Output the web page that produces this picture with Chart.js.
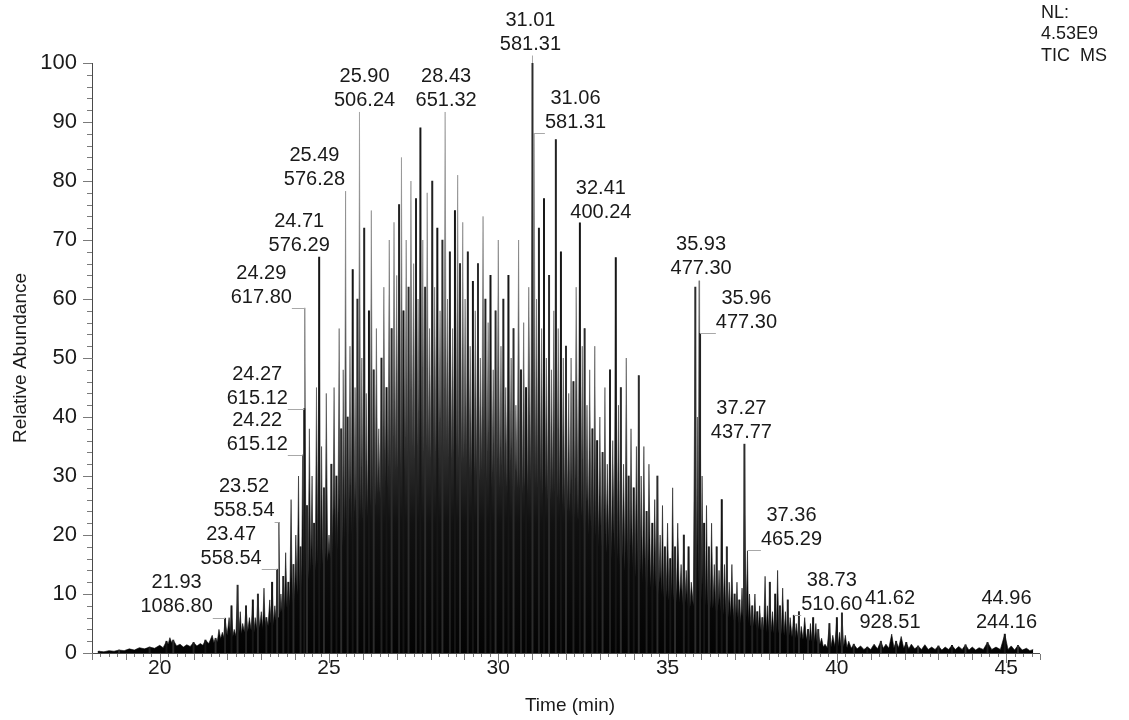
<!DOCTYPE html>
<html lang="en">
<head>
  <meta charset="UTF-8">
  <title>TIC MS - Relative Abundance</title>
  <style>
    html, body { margin: 0; padding: 0; background: #fff; }
    #wrap { width: 1129px; height: 720px; position: relative; }
  </style>
</head>
<body>
  <div id="wrap"><canvas id="tic"></canvas></div>

  <script src="https://cdn.jsdelivr.net/npm/chart.js"></script>
  <script>
    // peak apexes (retention time in min, relative abundance in %)
    const peakTime = [
      18.2, 18.5, 18.8, 19.1, 19.4, 19.7, 20.0, 20.2, 20.3, 20.4,
      20.6, 20.8, 21.0, 21.2, 21.35, 21.55, 21.65, 21.75, 21.85, 21.93,
      22.05, 22.12, 22.2, 22.3, 22.38, 22.45, 22.55, 22.65, 22.75, 22.82,
      22.9, 23.0, 23.08, 23.15, 23.25, 23.32, 23.4, 23.47, 23.52, 23.58,
      23.65, 23.72, 23.8, 23.88, 23.95, 24.02, 24.1, 24.16, 24.22, 24.27,
      24.29, 24.35, 24.42, 24.5, 24.56, 24.63, 24.71, 24.78, 24.85, 24.92,
      25.0, 25.07, 25.15, 25.22, 25.3, 25.36, 25.42, 25.49, 25.55, 25.62,
      25.7, 25.77, 25.84, 25.9, 25.97, 26.04, 26.1, 26.18, 26.25, 26.32,
      26.4, 26.47, 26.55, 26.62, 26.7, 26.78, 26.85, 26.92, 27.0, 27.07,
      27.14, 27.2, 27.28, 27.35, 27.42, 27.5, 27.57, 27.63, 27.7, 27.77,
      27.84, 27.9, 27.97, 28.05, 28.12, 28.2, 28.28, 28.35, 28.43, 28.5,
      28.57, 28.65, 28.72, 28.8, 28.87, 28.95, 29.02, 29.1, 29.17, 29.25,
      29.32, 29.4, 29.47, 29.55, 29.62, 29.7, 29.77, 29.85, 29.92, 30.0,
      30.08, 30.15, 30.22, 30.3, 30.38, 30.45, 30.52, 30.6, 30.67, 30.75,
      30.82, 30.9, 31.01, 31.06, 31.13, 31.2, 31.28, 31.35, 31.42, 31.5,
      31.57, 31.64, 31.7, 31.77, 31.85, 31.92, 32.0, 32.08, 32.15, 32.22,
      32.3, 32.41, 32.48, 32.55, 32.62, 32.7, 32.78, 32.85, 32.92, 33.0,
      33.08, 33.15, 33.22, 33.3, 33.38, 33.47, 33.55, 33.62, 33.7, 33.78,
      33.85, 33.92, 34.0, 34.08, 34.15, 34.22, 34.3, 34.38, 34.45, 34.55,
      34.62, 34.7, 34.78, 34.85, 34.92, 35.0, 35.08, 35.15, 35.22, 35.3,
      35.4, 35.48, 35.55, 35.62, 35.7, 35.82, 35.88, 35.93, 35.96, 36.02,
      36.08, 36.15, 36.22, 36.3, 36.38, 36.45, 36.52, 36.6, 36.68, 36.75,
      36.82, 36.9, 36.98, 37.05, 37.12, 37.2, 37.27, 37.36, 37.42, 37.5,
      37.58, 37.65, 37.72, 37.8, 37.88, 37.95, 38.02, 38.1, 38.18, 38.25,
      38.32, 38.4, 38.48, 38.55, 38.62, 38.73, 38.8, 38.88, 38.95, 39.05,
      39.15, 39.22, 39.3, 39.38, 39.45, 39.55, 39.65, 39.78, 39.88, 40.0,
      40.08, 40.15, 40.25, 40.35, 40.5, 40.7, 40.9, 41.1, 41.3, 41.45,
      41.62, 41.75, 41.9, 42.05, 42.2, 42.4, 42.6, 42.8, 43.0, 43.2,
      43.4, 43.6, 43.8, 44.0, 44.2, 44.45, 44.7, 44.96, 45.15, 45.35,
      45.6, 45.8
    ];
    const peakAbund = [
      0.3, 0.4, 0.5, 0.7, 0.9, 1.0, 1.3, 2.0, 2.6, 2.2,
      1.5, 1.4, 1.8, 1.6, 2.2, 3, 2.5, 4, 3.5, 5.9,
      6, 8, 4, 11.5, 7, 5, 8, 6, 9, 6,
      10, 7, 11, 6, 9, 12, 8, 14.2, 22.2, 10,
      13, 17, 12, 26, 15, 20, 30, 18, 33.6, 41.4,
      58.5, 25, 38, 30, 22, 45, 67.1, 35, 28, 44,
      20, 32, 45, 30, 55, 38, 48, 78.3, 40, 52,
      65, 45, 60, 91.7, 50, 72, 44, 58, 75, 48,
      55, 38, 50, 62, 45, 70, 55, 73, 64, 76,
      84, 58, 70, 62, 80, 66, 77, 60, 89, 70,
      62, 78, 55, 80, 62, 72, 58, 70, 91.7, 60,
      68, 55, 75, 81, 66, 73, 60, 68, 52, 63,
      58, 66, 50, 74, 60, 56, 64, 48, 58, 70,
      52, 60, 45, 64, 50, 55, 42, 70, 48, 56,
      45, 62, 100, 88.1, 60, 72, 55, 77, 50, 64,
      48, 58, 87, 55, 68, 50, 52, 44, 50, 46,
      62, 72.9, 52, 55, 42, 48, 38, 52, 36, 40,
      34, 45, 32, 48, 36, 67, 42, 45, 32, 50,
      30, 38, 28, 35, 47, 30, 35, 24, 32, 22,
      26, 30, 20, 25, 18, 22, 16, 28, 18, 22,
      15, 20, 14, 18, 12, 62, 40, 63.1, 54.2, 30,
      22, 25, 18, 22, 15, 18, 14, 26, 15, 18,
      12, 15, 10, 12, 9, 11, 35.4, 17.3, 10, 8,
      10, 7, 8, 6, 13, 8, 12, 7, 10, 14,
      8, 11, 7, 9, 6, 6.4, 5, 7, 4.5, 6,
      4, 5, 6, 5, 4, 2.5, 1.5, 5, 3, 6,
      3.5, 6.8, 3, 2, 1.5, 1.2, 1, 1.5, 2, 1.5,
      3.2, 2, 2.8, 1.8, 1.5, 1.2, 1.4, 1, 1.2, 1,
      1.3, 1.1, 1.4, 1, 0.9, 1.8, 1, 3.2, 1.2, 1.3,
      0.8, 0.6
    ];
    // trace minimum between each apex and the next one
    const valleyAbund = [
      0.2, 0.3, 0.4, 0.5, 0.7, 0.8, 0.9, 1.5, 1.8, 1.2,
      1.0, 1.1, 1.2, 1.3, 1.6, 1.8, 1.9, 2.4, 2.6, 3.0,
      3.2, 2.8, 2.9, 3.4, 3.2, 3.5, 3.6, 3.8, 3.5, 4.0,
      4.2, 4.1, 4.4, 4.6, 5.0, 4.8, 5.5, 6.0, 6.5, 6.8,
      7.2, 7.5, 8, 8.5, 9, 10, 10.5, 11, 12, 13,
      13, 12.5, 14, 13, 14, 15, 14, 15, 16, 15.5,
      16, 17, 18, 17.5, 19, 18, 19, 20, 20, 20,
      21, 20, 22, 23, 22, 24, 23, 25, 26, 25,
      27, 26, 28, 29, 28, 30, 29, 31, 31, 32,
      33, 31, 33, 34, 35, 33, 35, 36, 36, 34,
      35, 34, 33, 36, 34, 33, 35, 34, 36, 33,
      33, 34, 35, 33, 32, 33, 32, 31, 30, 31,
      30, 29, 31, 30, 29, 30, 28, 29, 30, 28,
      28, 29, 27, 29, 28, 27, 28, 28, 27, 28,
      27, 29, 31, 29, 28, 29, 27, 28, 26, 26,
      27, 27, 26, 25, 25, 24, 24, 24, 23, 23,
      22, 23, 21, 22, 20, 21, 19, 20, 18, 18,
      18, 17, 18, 16, 17, 16, 15, 16, 14, 15,
      14, 14.5, 13, 14, 13, 12, 12, 11, 11, 10.5,
      10.5, 10, 10, 9.5, 9.5, 9, 9.5, 9, 8.5, 8.5,
      8, 8.5, 8, 7.5, 8, 9, 10, 10, 9, 8.5,
      8, 8, 7.5, 7.5, 7, 7, 7, 6.5, 6.5, 6,
      6, 5.5, 5.5, 5, 5, 5, 5.5, 5, 4.5, 4.5,
      4.2, 4, 3.8, 3.8, 3.6, 3.6, 3.5, 3.4, 3.3, 3.3,
      3.1, 3, 2.9, 2.8, 2.7, 2.6, 2.6, 2.4, 2.3, 2.2,
      2, 2, 1.9, 1.8, 1.5, 1.0, 0.9, 1.0, 1.1, 1.2,
      1.1, 1.0, 0.9, 0.8, 0.7, 0.6, 0.6, 0.7, 0.8, 0.8,
      0.9, 0.9, 0.8, 0.7, 0.7, 0.6, 0.6, 0.6, 0.5, 0.6,
      0.6, 0.6, 0.5, 0.5, 0.6, 0.6, 0.6, 0.6, 0.5, 0.5,
      0.4
    ];

    // peak annotations: retention time, base peak m/z, where the text sits
    const labelRt = ['21.93', '23.47', '23.52', '24.22', '24.27', '24.29', '24.71', '25.49', '25.90', '28.43',
                     '31.01', '31.06', '32.41', '35.93', '35.96', '37.27', '37.36', '38.73', '41.62', '44.96'];
    const labelMz = ['1086.80', '558.54', '558.54', '615.12', '615.12', '617.80', '576.29', '576.28', '506.24', '651.32',
                     '581.31', '581.31', '400.24', '477.30', '477.30', '437.77', '465.29', '510.60', '928.51', '244.16'];
    const labelTextTime = [20.50, 22.11, 22.49, 22.88, 22.88, 23.00, 24.12, 24.57, 26.05, 28.46,
                           30.95, 32.28, 33.03, 35.99, 37.33, 37.18, 38.66, 39.85, 41.57, 45.01];
    const labelTextAbund = [7.8, 16.1, 24.1, 35.4, 43.2, 60.3, 69.0, 80.2, 93.6, 93.6,
                            103.2, 90.0, 74.7, 65.1, 56.1, 37.3, 19.3, 8.3, 5.1, 5.1];

    const xTickLabels = [20, 25, 30, 35, 40, 45];
    const yTickLabels = [0, 10, 20, 30, 40, 50, 60, 70, 80, 90, 100];
    const nlLines = ['NL:', '4.53E9', 'TIC  MS'];

    const FONT = '"Liberation Sans", Arial, sans-serif';
    // some apexes print as a dark core line, the rest only as the grey envelope
    const coreColors = ['#161616', 'rgba(0,0,0,0)', '#2c2c2c', 'rgba(0,0,0,0)', 'rgba(0,0,0,0)', '#222222', 'rgba(0,0,0,0)'];

    // apex, valley, apex, valley ... the valley sits halfway between two apexes
    const trace = [];
    peakTime.forEach((t, i) => {
      trace.push({ x: t, y: peakAbund[i] });
      if (i < valleyAbund.length) trace.push({ x: (t + peakTime[i + 1]) / 2, y: valleyAbund[i] });
    });

    // black at the bottom, grey towards the tips
    function traceShade(c) {
      const { ctx, chartArea, scales } = c.chart;
      if (!chartArea) return '#222';
      const g = ctx.createLinearGradient(0, scales.y.getPixelForValue(0), 0, scales.y.getPixelForValue(100));
      g.addColorStop(0, '#030303');
      g.addColorStop(0.22, '#111111');
      g.addColorStop(0.42, '#404040');
      g.addColorStop(0.7, '#767676');
      g.addColorStop(1, '#9c9c9c');
      return g;
    }

    const decor = {
      id: 'decor',
      afterDraw(chart) {
        const { ctx, chartArea: a, scales: { x, y } } = chart;
        ctx.save();

        // axes
        ctx.strokeStyle = '#4a4a4a';
        ctx.lineWidth = 1;
        ctx.beginPath();
        ctx.moveTo(a.left + 0.5, Math.round(y.getPixelForValue(100)));
        ctx.lineTo(a.left + 0.5, a.bottom + 0.5);
        ctx.lineTo(a.right, a.bottom + 0.5);
        ctx.stroke();

        // y ticks every 2, long every 10
        ctx.strokeStyle = '#7a7a7a';
        ctx.beginPath();
        for (let v = 0; v <= 100; v += 2) {
          const py = Math.round(y.getPixelForValue(v)) + 0.5;
          const len = v % 10 === 0 ? 9 : 5;
          ctx.moveTo(a.left - len, py);
          ctx.lineTo(a.left, py);
        }
        // x ticks every 0.25, longer on whole minutes and on multiples of 5
        for (let q = 18 * 4; q <= 46 * 4; q++) {
          const t = q / 4;
          const px = Math.round(x.getPixelForValue(t)) + 0.5;
          const len = t % 5 === 0 ? 9 : (t % 1 === 0 ? 6 : 3);
          ctx.moveTo(px, a.bottom + 1);
          ctx.lineTo(px, a.bottom + 1 + len);
        }
        ctx.stroke();

        // axis titles
        ctx.fillStyle = '#1a1a1a';
        ctx.font = '19px ' + FONT;
        ctx.textAlign = 'center';
        ctx.textBaseline = 'middle';
        ctx.fillText('Time (min)', (a.left + a.right) / 2 + 4, 706);
        ctx.save();
        ctx.translate(21, (a.top + a.bottom) / 2);
        ctx.rotate(-Math.PI / 2);
        ctx.fillText('Relative Abundance', 0, 0);
        ctx.restore();

        // normalisation level
        ctx.textAlign = 'left';
        ctx.font = '18px ' + FONT;
        nlLines.forEach((s, i) => ctx.fillText(s, 1041, 13 + i * 21.5));

        // peak labels with leader lines
        ctx.font = '20px ' + FONT;
        ctx.textAlign = 'center';
        labelRt.forEach((rt, i) => {
          const cx = x.getPixelForValue(labelTextTime[i]);
          const my = y.getPixelForValue(labelTextAbund[i]);
          const ry = my - 24;
          const w = Math.max(ctx.measureText(rt).width, ctx.measureText(labelMz[i]).width);
          const k = peakTime.indexOf(Number(rt));
          const px = x.getPixelForValue(peakTime[k]);
          const py = y.getPixelForValue(peakAbund[k]);
          const lineY = Math.round(my + 11) + 0.5;

          ctx.strokeStyle = '#a8a8a8';
          ctx.beginPath();
          if (px < cx - w / 2 || px > cx + w / 2) {
            const from = px < cx ? cx - w / 2 : cx + w / 2;
            ctx.moveTo(from, lineY);
            ctx.lineTo(px, lineY);
          }
          if (py > lineY) {
            ctx.moveTo(px, lineY);
            ctx.lineTo(px, py);
          }
          ctx.stroke();

          ctx.fillStyle = '#1a1a1a';
          ctx.fillText(rt, cx, ry);
          ctx.fillText(labelMz[i], cx, my);
        });

        ctx.restore();
      }
    };

    new Chart(document.getElementById('tic'), {
      type: 'line',
      data: {
        datasets: [
          {
            label: 'TIC MS',
            data: trace,
            fill: 'origin',
            backgroundColor: traceShade,
            borderColor: traceShade,
            borderWidth: 0.6,
            pointRadius: 0,
            tension: 0,
            order: 2
          },
          {
            type: 'bar',
            label: 'apex cores',
            data: peakTime.map((t, i) => ({ x: t, y: peakAbund[i] })),
            backgroundColor: c => coreColors[c.dataIndex % coreColors.length],
            barThickness: 1.3,
            grouped: false,
            order: 1
          }
        ]
      },
      options: {
        responsive: true,
        maintainAspectRatio: false,
        animation: false,
        layout: { padding: { top: 63, right: 89, left: 0, bottom: 0 } },
        plugins: { legend: { display: false }, tooltip: { enabled: false } },
        scales: {
          x: {
            type: 'linear',
            min: 18,
            max: 46,
            offset: false,
            afterBuildTicks: s => { s.ticks = xTickLabels.map(v => ({ value: v })); },
            afterFit: s => { s.height = 67; },
            grid: { display: false, drawTicks: false },
            border: { display: false },
            ticks: { color: '#1a1a1a', padding: 3, maxRotation: 0, font: { family: FONT, size: 21 } }
          },
          y: {
            min: 0,
            max: 100,
            afterBuildTicks: s => { s.ticks = yTickLabels.map(v => ({ value: v })); },
            afterFit: s => { s.width = 92; },
            grid: { display: false, drawTicks: false },
            border: { display: false },
            ticks: { color: '#1a1a1a', padding: 15, font: { family: FONT, size: 22 } }
          }
        }
      },
      plugins: [decor]
    });
  </script>
</body>
</html>
